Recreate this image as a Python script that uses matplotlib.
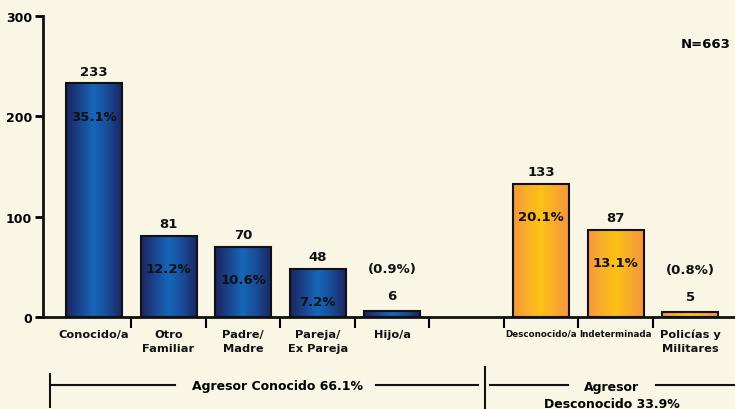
import matplotlib.pyplot as plt
import numpy as np
from matplotlib.lines import Line2D
from matplotlib.colors import LinearSegmentedColormap
from matplotlib.transforms import blended_transform_factory, offset_copy

# data
categories = ["Conocido/a", "Otro\nFamiliar", "Padre/\nMadre", "Pareja/\nEx Pareja", "Hijo/a",
              "", "Desconocido/a", "Indeterminada", "Policías y\nMilitares"]
counts = [233, 81, 70, 48, 6, None, 133, 87, 5]
percents = ["35.1%", "12.2%", "10.6%", "7.2%", "(0.9%)", None, "20.1%", "13.1%", "(0.8%)"]
group = ["k", "k", "k", "k", "k", None, "d", "d", "d"]
yticks = [0, 100, 200, 300]

bg = "#faf6e6"
W, H = 735, 410
fig = plt.figure(figsize=(7.35, 4.1), dpi=100, facecolor=bg)
ax = fig.add_axes([43 / W, 92 / H, 692 / W, 301 / H], facecolor=bg)

blue = LinearSegmentedColormap.from_list("b", ["#1a2561", "#1b4590", "#1568b8", "#1a4a96", "#1b2763"])
orange = LinearSegmentedColormap.from_list("o", ["#f5963f", "#f9b027", "#fcc214", "#f9ab2d", "#f5963f"])
grad = np.linspace(0, 1, 100).reshape(1, -1)

x = np.arange(len(categories))
for i, (c, g) in enumerate(zip(counts, group)):
    if c is None:
        continue
    b = ax.bar(i, c, width=0.75, facecolor="none", edgecolor="#111111", linewidth=1.5, zorder=3)[0]
    im = ax.imshow(grad, cmap=blue if g == "k" else orange, aspect="auto",
                   extent=(i - 0.375, i + 0.375, 0, c), zorder=2)
    im.set_clip_path(b)
    p = percents[i]
    if c > 20:
        ax.text(i, c + 12, str(c), ha="center", va="center", fontsize=9.5, fontweight="bold", color="#111111")
        ax.text(i, c - 33, p, ha="center", va="center", fontsize=9.5, fontweight="bold", color="#111111")
    else:
        ax.text(i, c + 15, str(c), ha="center", va="center", fontsize=9.5, fontweight="bold", color="#111111")
        ax.text(i, c + 42, p, ha="center", va="center", fontsize=9.5, fontweight="bold", color="#111111")

ax.set_xlim(-0.685, 8.6)
ax.set_ylim(0, 300)
for s in ["top", "right"]:
    ax.spines[s].set_visible(False)
for s in ["left", "bottom"]:
    ax.spines[s].set_linewidth(2)
    ax.spines[s].set_color("#111111")

ax.set_yticks(yticks)
ax.set_yticklabels([str(t) for t in yticks], fontsize=9, fontweight="bold")
ax.tick_params(axis="y", length=6, width=2, pad=2)

ax.set_xticks(np.arange(0.5, 8, 1))
ax.set_xticklabels([])
ax.tick_params(axis="x", which="major", length=8, width=1.5)

# category labels under the bars
trans = offset_copy(blended_transform_factory(ax.transData, ax.transAxes), fig=fig, y=-12, units="dots")
for i, lab in enumerate(categories):
    small = lab in ("Desconocido/a", "Indeterminada")
    ax.text(i, 0, lab, transform=trans, ha="center", va="top", fontsize=6.3 if small else 8.2,
            fontweight="bold", linespacing=1.45, color="#111111")

fig.text(706 / W, 1 - 45 / H, "N=663", ha="center", va="center", fontsize=9.5, fontweight="bold")


def fl(x0, y0, x1, y1, lw=1.5):
    fig.add_artist(Line2D([x0 / W, x1 / W], [1 - y0 / H, 1 - y1 / H], color="#111111", lw=lw))


# group brackets below the axis
fl(50, 375, 50, 408)
fl(50, 386, 175, 386)
fl(376, 386, 478, 386)
fig.text(277 / W, 1 - 387 / H, "Agresor Conocido 66.1%", ha="center", va="center", fontsize=9, fontweight="bold")
fl(485, 368, 485, 410)
fl(490, 386, 568, 386)
fl(656, 386, 735, 386)
fig.text(612 / W, 1 - 388 / H, "Agresor", ha="center", va="center", fontsize=9, fontweight="bold")
fig.text(612 / W, 1 - 405 / H, "Desconocido 33.9%", ha="center", va="center", fontsize=9, fontweight="bold")

fig.savefig("out.png", dpi=100, facecolor=bg)
